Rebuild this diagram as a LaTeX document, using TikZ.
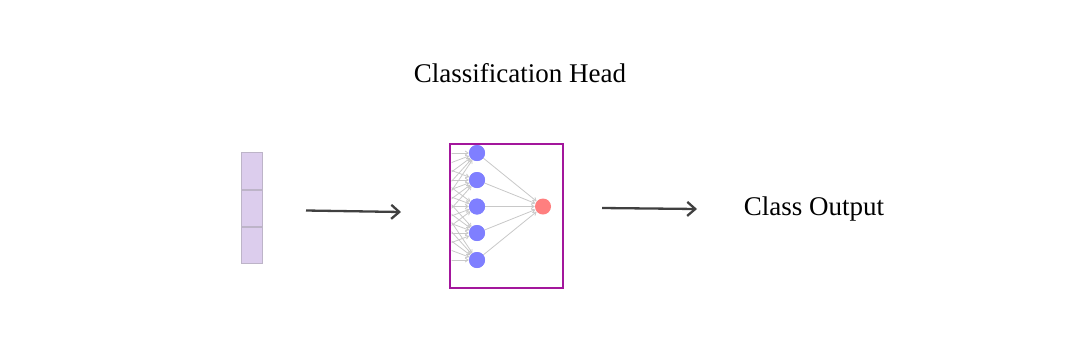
\documentclass[tikz,border=0pt]{standalone}
\usepackage{fontspec}
\setmainfont{Liberation Serif}
\usetikzlibrary{arrows.meta}
\definecolor{cellfill}{HTML}{DCCDED}
\definecolor{cellline}{HTML}{BDB4C8}
\definecolor{headline}{HTML}{A3169C}
\definecolor{hidfill}{HTML}{7F7FFF}
\definecolor{outfill}{HTML}{FF7F7F}
\definecolor{wire}{HTML}{C8C8C8}
\definecolor{flow}{HTML}{404040}
\tikzset{
  cell/.style={draw=cellline, fill=cellfill, line width=0.8pt, minimum width=21pt, minimum height=36.3pt, inner sep=0pt},
  neuron/.style={circle, inner sep=0pt, minimum size=16pt},
  flowarrow/.style={draw=flow, line width=2.3pt, -{Straight Barb[length=8pt,width=14pt]}},
  wirearrow/.style={draw=wire, line width=0.8pt, -{Straight Barb[length=3pt,width=4pt]}},
  label/.style={font=\fontsize{27}{30}\selectfont, inner sep=0pt}
}
\begin{document}
\begin{tikzpicture}[x=1pt,y=-1pt]
\useasboundingbox (0,0) rectangle (1067,357);

% embedding vector
\node[cell] (v1) at (251.5,171) {};
\node[cell, anchor=north] (v2) at (v1.south) {};
\node[cell, anchor=north] (v3) at (v2.south) {};

% classification head
\node[label] (title) at (520,73) {Classification Head};
\node[draw=headline, line width=2.4pt, minimum width=113pt, minimum height=144pt, inner sep=0pt] (head) at (506.5,216) {};

\foreach \i/\y in {1/153,2/180,3/206.5,4/233,5/260} {
  \coordinate (in\i) at (405,\y);
  \node[neuron, fill=hidfill] (h\i) at (477,\y) {};
}
\node[neuron, fill=outfill] (out) at (543,206.5) {};

\begin{scope}
  \clip (451.5,145.5) rectangle (561.5,286.5);
  \foreach \i in {1,...,5}
    \foreach \j in {1,...,5}
      \draw[wirearrow] (in\i) -- (h\j);
\end{scope}
\foreach \j in {1,...,5}
  \draw[wirearrow] (h\j) -- (out);
\foreach \j in {1,...,5}
  \node[neuron, fill=hidfill] at (h\j) {};

% output
\node[label] (cls) at (814,209) {Class Output};

\coordinate (a1s) at (306,210.5);
\coordinate (a1e) at (401,212);
\coordinate (a2s) at (602,208);
\coordinate (a2e) at (697,209);
\draw[flowarrow] (a1s) -- (a1e);
\draw[flowarrow] (a2s) -- (a2e);
\end{tikzpicture}
\end{document}
